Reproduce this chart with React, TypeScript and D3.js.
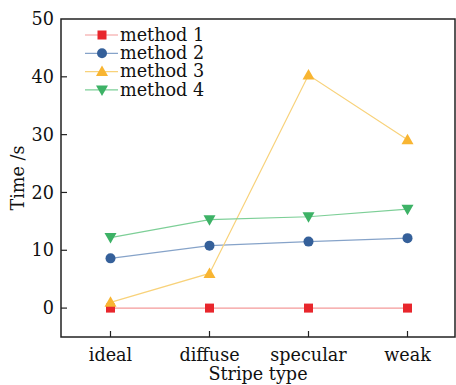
import React from 'react';
import * as d3 from 'd3';

const categories = ['ideal', 'diffuse', 'specular', 'weak'];
const method1 = [0, 0, 0, 0];
const method2 = [8.6, 10.8, 11.5, 12.1];
const method3 = [1.0, 6.0, 40.3, 29.1];
const method4 = [12.2, 15.3, 15.8, 17.1];
const yTicks = [0, 10, 20, 30, 40, 50];

const series = [
  { name: 'method 1', values: method1, line: '#f49a9a', fill: '#e8262c', shape: 'square' },
  { name: 'method 2', values: method2, line: '#86a3c9', fill: '#35609a', shape: 'circle' },
  { name: 'method 3', values: method3, line: '#f8d27a', fill: '#f8b532', shape: 'up' },
  { name: 'method 4', values: method4, line: '#7dcf97', fill: '#3db266', shape: 'down' },
];

const W = 456;
const H = 385;
const left = 61, right = 455, top = 19, bottom = 337;
const font = '"DejaVu Serif", serif';
const fs = 17.6;

function marker(shape: string, x: number, y: number, fill: string, key?: any) {
  if (shape === 'square') return <rect key={key} x={x - 4.5} y={y - 4.5} width={9} height={9} fill={fill} />;
  if (shape === 'circle') return <circle key={key} cx={x} cy={y} r={5} fill={fill} />;
  if (shape === 'up') return <path key={key} d={`M${x},${y - 6}L${x + 6},${y + 4.5}L${x - 6},${y + 4.5}Z`} fill={fill} />;
  return <path key={key} d={`M${x},${y + 6}L${x + 6},${y - 4.5}L${x - 6},${y - 4.5}Z`} fill={fill} />;
}

export default function App() {
  const x = d3.scalePoint<string>().domain(categories).range([left, right + 2]).padding(0.5);
  const y = d3.scaleLinear().domain([-5, 50]).range([bottom, top]);
  const line = d3.line<number>().x((_, i) => x(categories[i])!).y(d => y(d));

  return (
    <svg width={W} height={H} style={{ position: 'absolute', left: 0, top: 0 }} fontFamily={font}>
      <rect width={W} height={H} fill="#fff" />
      {series.map(s => (
        <path key={s.name} d={line(s.values)!} fill="none" stroke={s.line} strokeWidth={1.2} />
      ))}
      {series.map(s => s.values.map((v, i) => marker(s.shape, x(categories[i])!, y(v), s.fill, s.name + i)))}
      <rect x={left} y={top} width={right - left} height={bottom - top} fill="none" stroke="#222" strokeWidth={1.5} />
      {yTicks.map(t => (
        <g key={t}>
          {t < 50 && <line x1={left} x2={left + 6} y1={y(t)} y2={y(t)} stroke="#222" strokeWidth={1.2} />}
          <text x={54} y={y(t)} dy="0.35em" textAnchor="end" fontSize={fs} fill="#111">{t}</text>
        </g>
      ))}
      {categories.map(c => (
        <g key={c}>
          <line x1={x(c)!} x2={x(c)!} y1={bottom} y2={bottom - 6} stroke="#222" strokeWidth={1.2} />
          <text x={x(c)!} y={361} textAnchor="middle" fontSize={fs} fill="#111">{c}</text>
        </g>
      ))}
      <text x={258} y={380} textAnchor="middle" fontSize={fs} fill="#111">Stripe type</text>
      <text transform={`translate(24,${(top + bottom) / 2}) rotate(-90)`} textAnchor="middle" fontSize={fs} fill="#111">Time /s</text>
      {series.map((s, i) => {
        const ly = 35 + i * 18.3;
        return (
          <g key={s.name}>
            <line x1={85} x2={118} y1={ly} y2={ly} stroke={s.line} strokeWidth={1.2} />
            {marker(s.shape, 102, ly, s.fill)}
            <text x={120} y={ly} dy="0.32em" fontSize={fs} fill="#111">{s.name}</text>
          </g>
        );
      })}
    </svg>
  );
}
